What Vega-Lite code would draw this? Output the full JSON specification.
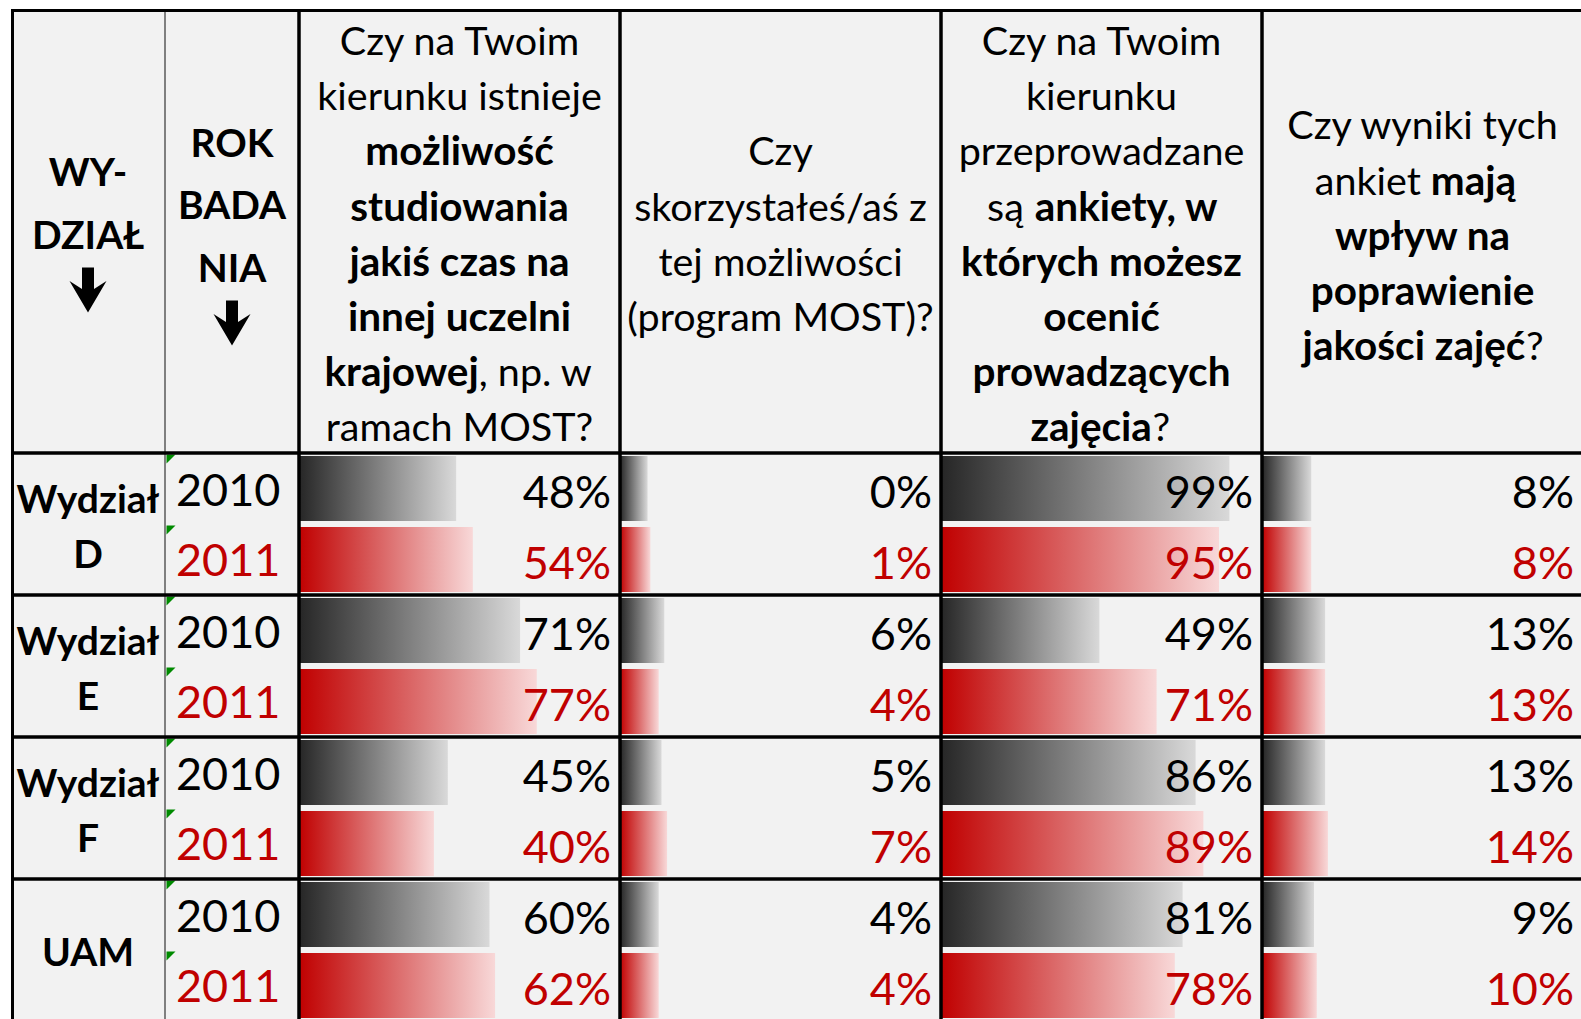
{
"$schema":"https://vega.github.io/schema/vega-lite/v6.json",
"background":"white",
"padding":{"left":11,"top":9,"right":0,"bottom":0},
"config":{"view":{"stroke":null,"fill":"#f2f2f2"},"concat":{"spacing":0}},
"datasets":{
"header":[
{"col":"c1","line":1,"text":"WY-","w":"b","part":"C"},
{"col":"c1","line":2,"text":"DZIAŁ","w":"b","part":"C"},
{"col":"c1","line":3,"text":"↓","w":"b","part":"A"},
{"col":"c2","line":1,"text":"ROK","w":"b","part":"C"},
{"col":"c2","line":2,"text":"BADA","w":"b","part":"C"},
{"col":"c2","line":3,"text":"NIA","w":"b","part":"C"},
{"col":"c2","line":4,"text":"↓","w":"b","part":"A"},
{"col":"q1","line":1,"text":"Czy na Twoim","w":"n","part":"C"},
{"col":"q1","line":2,"text":"kierunku istnieje","w":"n","part":"C"},
{"col":"q1","line":3,"text":"możliwość","w":"b","part":"C"},
{"col":"q1","line":4,"text":"studiowania","w":"b","part":"C"},
{"col":"q1","line":5,"text":"jakiś czas na","w":"b","part":"C"},
{"col":"q1","line":6,"text":"innej uczelni","w":"b","part":"C"},
{"col":"q1","line":7,"text":"krajowej","w":"b","part":"L"},
{"col":"q1","line":7,"text":", np. w","w":"n","part":"R"},
{"col":"q1","line":8,"text":"ramach MOST?","w":"n","part":"C"},
{"col":"q2","line":1,"text":"Czy","w":"n","part":"C"},
{"col":"q2","line":2,"text":"skorzystałeś/aś z","w":"n","part":"C"},
{"col":"q2","line":3,"text":"tej możliwości","w":"n","part":"C"},
{"col":"q2","line":4,"text":"(program MOST)?","w":"n","part":"C"},
{"col":"q3","line":1,"text":"Czy na Twoim","w":"n","part":"C"},
{"col":"q3","line":2,"text":"kierunku","w":"n","part":"C"},
{"col":"q3","line":3,"text":"przeprowadzane","w":"n","part":"C"},
{"col":"q3","line":4,"text":"są","w":"n","part":"L"},
{"col":"q3","line":4,"text":"ankiety, w","w":"b","part":"R"},
{"col":"q3","line":5,"text":"których możesz","w":"b","part":"C"},
{"col":"q3","line":6,"text":"ocenić","w":"b","part":"C"},
{"col":"q3","line":7,"text":"prowadzących","w":"b","part":"C"},
{"col":"q3","line":8,"text":"zajęcia","w":"b","part":"L"},
{"col":"q3","line":8,"text":"?","w":"n","part":"R"},
{"col":"q4","line":1,"text":"Czy wyniki tych","w":"n","part":"C"},
{"col":"q4","line":2,"text":"ankiet","w":"n","part":"L"},
{"col":"q4","line":2,"text":"mają","w":"b","part":"R"},
{"col":"q4","line":3,"text":"wpływ na","w":"b","part":"C"},
{"col":"q4","line":4,"text":"poprawienie","w":"b","part":"C"},
{"col":"q4","line":5,"text":"jakości zajęć","w":"b","part":"L"},
{"col":"q4","line":5,"text":"?","w":"n","part":"R"}
],
"body":[
{"wydzial":"D","rok":"2010","q1":0.48,"q2":0.00,"q3":0.99,"q4":0.08},
{"wydzial":"D","rok":"2011","q1":0.54,"q2":0.01,"q3":0.95,"q4":0.08},
{"wydzial":"E","rok":"2010","q1":0.71,"q2":0.06,"q3":0.49,"q4":0.13},
{"wydzial":"E","rok":"2011","q1":0.77,"q2":0.04,"q3":0.71,"q4":0.13},
{"wydzial":"F","rok":"2010","q1":0.45,"q2":0.05,"q3":0.86,"q4":0.13},
{"wydzial":"F","rok":"2011","q1":0.40,"q2":0.07,"q3":0.89,"q4":0.14},
{"wydzial":"UAM","rok":"2010","q1":0.60,"q2":0.04,"q3":0.81,"q4":0.09},
{"wydzial":"UAM","rok":"2011","q1":0.62,"q2":0.04,"q3":0.78,"q4":0.10}
],
"wydzialy":[
{"wydzial":"D","label":"Wydział\nD"},
{"wydzial":"E","label":"Wydział\nE"},
{"wydzial":"F","label":"Wydział\nF"},
{"wydzial":"UAM","label":"UAM"}
]
},
"spacing":0,
"vconcat":[
{"spacing":0,"bounds":"flush","hconcat":[
{"width":154,"height":444,"layer":[
 {"data":{"name":"header"},"transform":[{"filter":"datum.col == 'c1' && datum.part == 'C'"}],
  "mark":{"type":"text","font":"Lato","fontSize":39,"fontWeight":"bold","baseline":"middle","align":"center","color":"black"},
  "encoding":{"x":{"datum":0.5,"type":"quantitative","scale":{"domain":[0,1],"nice":false,"zero":false},"axis":null},
   "y":{"field":"line","type":"quantitative","scale":{"domain":[-1.64,5.464],"reverse":true,"nice":false,"zero":false},"axis":null},
   "text":{"field":"text"}}},
 {"data":{"name":"header"},"transform":[{"filter":"datum.col == 'c1' && datum.part == 'A'"}],
  "mark":{"type":"point","shape":"M -6 -31.5 L 6 -31.5 L 6 -10 L 18.5 -18 L 0 13.5 L -18.5 -18 L -6 -10 Z","size":4,"filled":true,"color":"black","opacity":1,"strokeWidth":0},
  "encoding":{"x":{"datum":0.5,"type":"quantitative","axis":null},"y":{"field":"line","type":"quantitative","axis":null}}},
 {"data":{"values":[{}]},"mark":{"type":"rule","stroke":"#808080","strokeWidth":2,"clip":true},"encoding":{"x":{"value":"width"},"y":{"value":0},"y2":{"value":"height"}}},
 {"data":{"values":[{}]},"mark":{"type":"rule","stroke":"black","strokeWidth":6,"clip":true},"encoding":{"x":{"value":0},"y":{"value":0},"y2":{"value":"height"}}},
 {"data":{"values":[{}]},"mark":{"type":"rule","stroke":"black","strokeWidth":6,"clip":true},"encoding":{"y":{"value":0},"x":{"value":0},"x2":{"value":"width"}}},
 {"data":{"values":[{}]},"mark":{"type":"rule","stroke":"black","strokeWidth":3.5,"clip":true},"encoding":{"y":{"value":"height"},"x":{"value":0},"x2":{"value":"width"}}}
]},
{"width":134,"height":444,"layer":[
 {"data":{"name":"header"},"transform":[{"filter":"datum.col == 'c2' && datum.part == 'C'"}],
  "mark":{"type":"text","font":"Lato","fontSize":39,"fontWeight":"bold","baseline":"middle","align":"center","color":"black"},
  "encoding":{"x":{"datum":0.5,"type":"quantitative","scale":{"domain":[0,1],"nice":false,"zero":false},"axis":null},
   "y":{"field":"line","type":"quantitative","scale":{"domain":[-1.168,5.936],"reverse":true,"nice":false,"zero":false},"axis":null},
   "text":{"field":"text"}}},
 {"data":{"name":"header"},"transform":[{"filter":"datum.col == 'c2' && datum.part == 'A'"}],
  "mark":{"type":"point","shape":"M -6 -31.5 L 6 -31.5 L 6 -10 L 18.5 -18 L 0 13.5 L -18.5 -18 L -6 -10 Z","size":4,"filled":true,"color":"black","opacity":1,"strokeWidth":0},
  "encoding":{"x":{"datum":0.5,"type":"quantitative","axis":null},"y":{"field":"line","type":"quantitative","axis":null}}},
 {"data":{"values":[{}]},"mark":{"type":"rule","stroke":"#808080","strokeWidth":2,"clip":true},"encoding":{"x":{"value":0},"y":{"value":0},"y2":{"value":"height"}}},
 {"data":{"values":[{}]},"mark":{"type":"rule","stroke":"black","strokeWidth":3.5,"clip":true},"encoding":{"x":{"value":"width"},"y":{"value":0},"y2":{"value":"height"}}},
 {"data":{"values":[{}]},"mark":{"type":"rule","stroke":"black","strokeWidth":6,"clip":true},"encoding":{"y":{"value":0},"x":{"value":0},"x2":{"value":"width"}}},
 {"data":{"values":[{}]},"mark":{"type":"rule","stroke":"black","strokeWidth":3.5,"clip":true},"encoding":{"y":{"value":"height"},"x":{"value":0},"x2":{"value":"width"}}}
]},
{"width":321,"height":444,"layer":[
 {"data":{"name":"header"},"transform":[{"filter":"datum.col == 'q1' && datum.part == 'C' && datum.w == 'n'"}],
  "mark":{"type":"text","font":"Lato","fontSize":39.5,"baseline":"middle","align":"center","color":"black"},
  "encoding":{"x":{"datum":0.5,"type":"quantitative","scale":{"domain":[0,1],"nice":false,"zero":false},"axis":null},
   "y":{"field":"line","type":"quantitative","scale":{"domain":[0.383,8.426],"reverse":true,"nice":false,"zero":false},"axis":null},
   "text":{"field":"text"}}},
 {"data":{"name":"header"},"transform":[{"filter":"datum.col == 'q1' && datum.part == 'C' && datum.w == 'b'"}],
  "mark":{"type":"text","font":"Lato","fontSize":40.5,"fontWeight":"bold","baseline":"middle","align":"center","color":"black"},
  "encoding":{"x":{"datum":0.5,"type":"quantitative","axis":null},"y":{"field":"line","type":"quantitative","axis":null},"text":{"field":"text"}}},
 {"data":{"name":"header"},"transform":[{"filter":"datum.col == 'q1' && datum.line == 7 && datum.part == 'L'"}],
  "mark":{"type":"text","font":"Lato","fontSize":40.5,"fontWeight":"bold","baseline":"middle","align":"right","color":"black"},
  "encoding":{"x":{"datum":0.56,"type":"quantitative","axis":null},"y":{"field":"line","type":"quantitative","axis":null},"text":{"field":"text"}}},
 {"data":{"name":"header"},"transform":[{"filter":"datum.col == 'q1' && datum.line == 7 && datum.part == 'R'"}],
  "mark":{"type":"text","font":"Lato","fontSize":39.5,"baseline":"middle","align":"left","color":"black"},
  "encoding":{"x":{"datum":0.56,"type":"quantitative","axis":null},"y":{"field":"line","type":"quantitative","axis":null},"text":{"field":"text"}}},
 {"data":{"values":[{}]},"mark":{"type":"rule","stroke":"black","strokeWidth":3.5,"clip":true},"encoding":{"x":{"value":0},"y":{"value":0},"y2":{"value":"height"}}},
 {"data":{"values":[{}]},"mark":{"type":"rule","stroke":"black","strokeWidth":3.5,"clip":true},"encoding":{"x":{"value":"width"},"y":{"value":0},"y2":{"value":"height"}}},
 {"data":{"values":[{}]},"mark":{"type":"rule","stroke":"black","strokeWidth":6,"clip":true},"encoding":{"y":{"value":0},"x":{"value":0},"x2":{"value":"width"}}},
 {"data":{"values":[{}]},"mark":{"type":"rule","stroke":"black","strokeWidth":3.5,"clip":true},"encoding":{"y":{"value":"height"},"x":{"value":0},"x2":{"value":"width"}}}
]},
{"width":321,"height":444,"layer":[
 {"data":{"name":"header"},"transform":[{"filter":"datum.col == 'q2' && datum.part == 'C' && datum.w == 'n'"}],
  "mark":{"type":"text","font":"Lato","fontSize":39.5,"baseline":"middle","align":"center","color":"black"},
  "encoding":{"x":{"datum":0.5,"type":"quantitative","scale":{"domain":[0,1],"nice":false,"zero":false},"axis":null},
   "y":{"field":"line","type":"quantitative","scale":{"domain":[-1.617,6.426],"reverse":true,"nice":false,"zero":false},"axis":null},
   "text":{"field":"text"}}},
 {"data":{"values":[{}]},"mark":{"type":"rule","stroke":"black","strokeWidth":3.5,"clip":true},"encoding":{"x":{"value":0},"y":{"value":0},"y2":{"value":"height"}}},
 {"data":{"values":[{}]},"mark":{"type":"rule","stroke":"black","strokeWidth":3.5,"clip":true},"encoding":{"x":{"value":"width"},"y":{"value":0},"y2":{"value":"height"}}},
 {"data":{"values":[{}]},"mark":{"type":"rule","stroke":"black","strokeWidth":6,"clip":true},"encoding":{"y":{"value":0},"x":{"value":0},"x2":{"value":"width"}}},
 {"data":{"values":[{}]},"mark":{"type":"rule","stroke":"black","strokeWidth":3.5,"clip":true},"encoding":{"y":{"value":"height"},"x":{"value":0},"x2":{"value":"width"}}}
]},
{"width":321,"height":444,"layer":[
 {"data":{"name":"header"},"transform":[{"filter":"datum.col == 'q3' && datum.part == 'C' && datum.w == 'n'"}],
  "mark":{"type":"text","font":"Lato","fontSize":39.5,"baseline":"middle","align":"center","color":"black"},
  "encoding":{"x":{"datum":0.5,"type":"quantitative","scale":{"domain":[0,1],"nice":false,"zero":false},"axis":null},
   "y":{"field":"line","type":"quantitative","scale":{"domain":[0.383,8.426],"reverse":true,"nice":false,"zero":false},"axis":null},
   "text":{"field":"text"}}},
 {"data":{"name":"header"},"transform":[{"filter":"datum.col == 'q3' && datum.part == 'C' && datum.w == 'b'"}],
  "mark":{"type":"text","font":"Lato","fontSize":40.5,"fontWeight":"bold","baseline":"middle","align":"center","color":"black"},
  "encoding":{"x":{"datum":0.5,"type":"quantitative","axis":null},"y":{"field":"line","type":"quantitative","axis":null},"text":{"field":"text"}}},
 {"data":{"name":"header"},"transform":[{"filter":"datum.col == 'q3' && datum.line == 4 && datum.part == 'L'"}],
  "mark":{"type":"text","font":"Lato","fontSize":39.5,"baseline":"middle","align":"right","color":"black"},
  "encoding":{"x":{"datum":0.258,"type":"quantitative","axis":null},"y":{"field":"line","type":"quantitative","axis":null},"text":{"field":"text"}}},
 {"data":{"name":"header"},"transform":[{"filter":"datum.col == 'q3' && datum.line == 4 && datum.part == 'R'"}],
  "mark":{"type":"text","font":"Lato","fontSize":40.5,"fontWeight":"bold","baseline":"middle","align":"left","color":"black"},
  "encoding":{"x":{"datum":0.292,"type":"quantitative","axis":null},"y":{"field":"line","type":"quantitative","axis":null},"text":{"field":"text"}}},
 {"data":{"name":"header"},"transform":[{"filter":"datum.col == 'q3' && datum.line == 8 && datum.part == 'L'"}],
  "mark":{"type":"text","font":"Lato","fontSize":40.5,"fontWeight":"bold","baseline":"middle","align":"right","color":"black"},
  "encoding":{"x":{"datum":0.657,"type":"quantitative","axis":null},"y":{"field":"line","type":"quantitative","axis":null},"text":{"field":"text"}}},
 {"data":{"name":"header"},"transform":[{"filter":"datum.col == 'q3' && datum.line == 8 && datum.part == 'R'"}],
  "mark":{"type":"text","font":"Lato","fontSize":39.5,"baseline":"middle","align":"left","color":"black"},
  "encoding":{"x":{"datum":0.659,"type":"quantitative","axis":null},"y":{"field":"line","type":"quantitative","axis":null},"text":{"field":"text"}}},
 {"data":{"values":[{}]},"mark":{"type":"rule","stroke":"black","strokeWidth":3.5,"clip":true},"encoding":{"x":{"value":0},"y":{"value":0},"y2":{"value":"height"}}},
 {"data":{"values":[{}]},"mark":{"type":"rule","stroke":"black","strokeWidth":3.5,"clip":true},"encoding":{"x":{"value":"width"},"y":{"value":0},"y2":{"value":"height"}}},
 {"data":{"values":[{}]},"mark":{"type":"rule","stroke":"black","strokeWidth":6,"clip":true},"encoding":{"y":{"value":0},"x":{"value":0},"x2":{"value":"width"}}},
 {"data":{"values":[{}]},"mark":{"type":"rule","stroke":"black","strokeWidth":3.5,"clip":true},"encoding":{"y":{"value":"height"},"x":{"value":0},"x2":{"value":"width"}}}
]},
{"width":319,"height":444,"layer":[
 {"data":{"name":"header"},"transform":[{"filter":"datum.col == 'q4' && datum.part == 'C' && datum.w == 'n'"}],
  "mark":{"type":"text","font":"Lato","fontSize":39.5,"baseline":"middle","align":"center","color":"black"},
  "encoding":{"x":{"datum":0.5,"type":"quantitative","scale":{"domain":[0,0.99377],"nice":false,"zero":false},"axis":null},
   "y":{"field":"line","type":"quantitative","scale":{"domain":[-1.144,6.899],"reverse":true,"nice":false,"zero":false},"axis":null},
   "text":{"field":"text"}}},
 {"data":{"name":"header"},"transform":[{"filter":"datum.col == 'q4' && datum.part == 'C' && datum.w == 'b'"}],
  "mark":{"type":"text","font":"Lato","fontSize":40.5,"fontWeight":"bold","baseline":"middle","align":"center","color":"black"},
  "encoding":{"x":{"datum":0.5,"type":"quantitative","axis":null},"y":{"field":"line","type":"quantitative","axis":null},"text":{"field":"text"}}},
 {"data":{"name":"header"},"transform":[{"filter":"datum.col == 'q4' && datum.line == 2 && datum.part == 'L'"}],
  "mark":{"type":"text","font":"Lato","fontSize":39.5,"baseline":"middle","align":"right","color":"black"},
  "encoding":{"x":{"datum":0.495,"type":"quantitative","axis":null},"y":{"field":"line","type":"quantitative","axis":null},"text":{"field":"text"}}},
 {"data":{"name":"header"},"transform":[{"filter":"datum.col == 'q4' && datum.line == 2 && datum.part == 'R'"}],
  "mark":{"type":"text","font":"Lato","fontSize":40.5,"fontWeight":"bold","baseline":"middle","align":"left","color":"black"},
  "encoding":{"x":{"datum":0.526,"type":"quantitative","axis":null},"y":{"field":"line","type":"quantitative","axis":null},"text":{"field":"text"}}},
 {"data":{"name":"header"},"transform":[{"filter":"datum.col == 'q4' && datum.line == 5 && datum.part == 'L'"}],
  "mark":{"type":"text","font":"Lato","fontSize":40.5,"fontWeight":"bold","baseline":"middle","align":"right","color":"black"},
  "encoding":{"x":{"datum":0.8205,"type":"quantitative","axis":null},"y":{"field":"line","type":"quantitative","axis":null},"text":{"field":"text"}}},
 {"data":{"name":"header"},"transform":[{"filter":"datum.col == 'q4' && datum.line == 5 && datum.part == 'R'"}],
  "mark":{"type":"text","font":"Lato","fontSize":39.5,"baseline":"middle","align":"left","color":"black"},
  "encoding":{"x":{"datum":0.8225,"type":"quantitative","axis":null},"y":{"field":"line","type":"quantitative","axis":null},"text":{"field":"text"}}},
 {"data":{"values":[{}]},"mark":{"type":"rule","stroke":"black","strokeWidth":3.5,"clip":true},"encoding":{"x":{"value":0},"y":{"value":0},"y2":{"value":"height"}}},
 {"data":{"values":[{}]},"mark":{"type":"rule","stroke":"black","strokeWidth":6,"clip":true},"encoding":{"y":{"value":0},"x":{"value":0},"x2":{"value":"width"}}},
 {"data":{"values":[{}]},"mark":{"type":"rule","stroke":"black","strokeWidth":3.5,"clip":true},"encoding":{"y":{"value":"height"},"x":{"value":0},"x2":{"value":"width"}}}
]}
]},
{"spacing":0,"bounds":"flush","hconcat":[
{"width":154,"height":566,"layer":[
 {"data":{"name":"wydzialy"},"transform":[{"filter":"datum.wydzial != 'UAM'"}],
  "mark":{"type":"text","font":"Lato","fontSize":39,"fontWeight":"bold","baseline":"middle","align":"center","lineBreak":"\n","lineHeight":55,"dy":-23.5,"color":"black"},
  "encoding":{"x":{"datum":0.5,"type":"quantitative","scale":{"domain":[0,1],"nice":false,"zero":false},"axis":null},
   "y":{"field":"wydzial","type":"nominal","scale":{"domain":["D","E","F","UAM"],"range":[0,568],"paddingInner":0,"paddingOuter":0},"axis":null},
   "text":{"field":"label"}}},
 {"data":{"name":"wydzialy"},"transform":[{"filter":"datum.wydzial == 'UAM'"}],
  "mark":{"type":"text","font":"Lato","fontSize":39,"fontWeight":"bold","baseline":"middle","align":"center","dy":4,"color":"black"},
  "encoding":{"x":{"datum":0.5,"type":"quantitative","axis":null},"y":{"field":"wydzial","type":"nominal","axis":null},"text":{"field":"label"}}},
 {"data":{"values":[{}]},"mark":{"type":"rule","stroke":"#808080","strokeWidth":2,"clip":true},"encoding":{"x":{"value":"width"},"y":{"value":0},"y2":{"value":"height"}}},
 {"data":{"values":[{}]},"mark":{"type":"rule","stroke":"black","strokeWidth":6,"clip":true},"encoding":{"x":{"value":0},"y":{"value":0},"y2":{"value":"height"}}},
 {"data":{"name":"wydzialy"},"mark":{"type":"rule","stroke":"black","strokeWidth":3.5,"clip":true},"encoding":{"y":{"field":"wydzial","type":"nominal","bandPosition":0,"axis":null},"x":{"value":0},"x2":{"value":"width"}}}
]},
{"width":134,"height":566,"layer":[
 {"data":{"name":"body"},
  "mark":{"type":"text","font":"Lato","fontSize":45,"baseline":"alphabetic","align":"left","dx":11,"dy":17},
  "encoding":{"x":{"value":0},
   "y":{"field":"wydzial","type":"nominal","scale":{"domain":["D","E","F","UAM"],"range":[0,568],"paddingInner":0,"paddingOuter":0},"axis":null},
   "yOffset":{"field":"rok","type":"nominal","scale":{"domain":["2010","2011"],"paddingInner":0.0845,"paddingOuter":0.0423}},
   "text":{"field":"rok"},
   "color":{"condition":{"test":"datum.rok == '2011'","value":"#c00000"},"value":"black"}}},
 {"data":{"name":"body"},
  "mark":{"type":"point","shape":"M 1.5 -34 L 10.5 -34 L 1.5 -25 Z","size":4,"filled":true,"color":"#008a00","opacity":1,"strokeWidth":0},
  "encoding":{"x":{"value":0},"y":{"field":"wydzial","type":"nominal","axis":null},"yOffset":{"field":"rok","type":"nominal"}}},
 {"data":{"values":[{}]},"mark":{"type":"rule","stroke":"#808080","strokeWidth":2,"clip":true},"encoding":{"x":{"value":0},"y":{"value":0},"y2":{"value":"height"}}},
 {"data":{"values":[{}]},"mark":{"type":"rule","stroke":"black","strokeWidth":3.5,"clip":true},"encoding":{"x":{"value":"width"},"y":{"value":0},"y2":{"value":"height"}}},
 {"data":{"name":"wydzialy"},"mark":{"type":"rule","stroke":"black","strokeWidth":3.5,"clip":true},"encoding":{"y":{"field":"wydzial","type":"nominal","bandPosition":0,"axis":null},"x":{"value":0},"x2":{"value":"width"}}}
]},
{"width":321,"height":566,"layer":[
 {"data":{"name":"body"},"transform":[{"filter":"datum.rok == '2010'"}],
  "mark":{"type":"bar","clip":true,"fill":{"gradient":"linear","x1":0,"y1":0,"x2":1,"y2":0,"stops":[{"offset":0,"color":"#262626"},{"offset":1,"color":"#d9d9d9"}]}},
  "encoding":{"x":{"field":"q1","type":"quantitative","scale":{"domain":[-0.0853,1.0694],"nice":false,"zero":false},"axis":null},"x2":{"datum":-0.0853},
   "y":{"field":"wydzial","type":"nominal","scale":{"domain":["D","E","F","UAM"],"range":[0,568],"paddingInner":0,"paddingOuter":0},"axis":null},
   "yOffset":{"field":"rok","type":"nominal","scale":{"domain":["2010","2011"],"paddingInner":0.0845,"paddingOuter":0.0423}}}},
 {"data":{"name":"body"},"transform":[{"filter":"datum.rok == '2011'"}],
  "mark":{"type":"bar","clip":true,"fill":{"gradient":"linear","x1":0,"y1":0,"x2":1,"y2":0,"stops":[{"offset":0,"color":"#c00000"},{"offset":1,"color":"#f8d8d8"}]}},
  "encoding":{"x":{"field":"q1","type":"quantitative","axis":null},"x2":{"datum":-0.0853},"y":{"field":"wydzial","type":"nominal","axis":null},"yOffset":{"field":"rok","type":"nominal"}}},
 {"data":{"name":"body"},
  "mark":{"type":"text","font":"Lato","fontSize":45,"baseline":"alphabetic","align":"right","dx":-9,"dy":19.5},
  "encoding":{"x":{"value":"width"},"y":{"field":"wydzial","type":"nominal","axis":null},"yOffset":{"field":"rok","type":"nominal"},
   "text":{"field":"q1","type":"quantitative","format":".0%"},
   "color":{"condition":{"test":"datum.rok == '2011'","value":"#c00000"},"value":"black"}}},
 {"data":{"values":[{}]},"mark":{"type":"rule","stroke":"black","strokeWidth":3.5,"clip":true},"encoding":{"x":{"value":0},"y":{"value":0},"y2":{"value":"height"}}},
 {"data":{"values":[{}]},"mark":{"type":"rule","stroke":"black","strokeWidth":3.5,"clip":true},"encoding":{"x":{"value":"width"},"y":{"value":0},"y2":{"value":"height"}}},
 {"data":{"name":"wydzialy"},"mark":{"type":"rule","stroke":"black","strokeWidth":3.5,"clip":true},"encoding":{"y":{"field":"wydzial","type":"nominal","bandPosition":0,"axis":null},"x":{"value":0},"x2":{"value":"width"}}}
]},
{"width":321,"height":566,"layer":[
 {"data":{"name":"body"},"transform":[{"filter":"datum.rok == '2010'"}],
  "mark":{"type":"bar","clip":true,"fill":{"gradient":"linear","x1":0,"y1":0,"x2":1,"y2":0,"stops":[{"offset":0,"color":"#262626"},{"offset":1,"color":"#d9d9d9"}]}},
  "encoding":{"x":{"field":"q2","type":"quantitative","scale":{"domain":[-0.0993,1.0554],"nice":false,"zero":false},"axis":null},"x2":{"datum":-0.0993},
   "y":{"field":"wydzial","type":"nominal","scale":{"domain":["D","E","F","UAM"],"range":[0,568],"paddingInner":0,"paddingOuter":0},"axis":null},
   "yOffset":{"field":"rok","type":"nominal","scale":{"domain":["2010","2011"],"paddingInner":0.0845,"paddingOuter":0.0423}}}},
 {"data":{"name":"body"},"transform":[{"filter":"datum.rok == '2011'"}],
  "mark":{"type":"bar","clip":true,"fill":{"gradient":"linear","x1":0,"y1":0,"x2":1,"y2":0,"stops":[{"offset":0,"color":"#c00000"},{"offset":1,"color":"#f8d8d8"}]}},
  "encoding":{"x":{"field":"q2","type":"quantitative","axis":null},"x2":{"datum":-0.0993},"y":{"field":"wydzial","type":"nominal","axis":null},"yOffset":{"field":"rok","type":"nominal"}}},
 {"data":{"name":"body"},
  "mark":{"type":"text","font":"Lato","fontSize":45,"baseline":"alphabetic","align":"right","dx":-9,"dy":19.5},
  "encoding":{"x":{"value":"width"},"y":{"field":"wydzial","type":"nominal","axis":null},"yOffset":{"field":"rok","type":"nominal"},
   "text":{"field":"q2","type":"quantitative","format":".0%"},
   "color":{"condition":{"test":"datum.rok == '2011'","value":"#c00000"},"value":"black"}}},
 {"data":{"values":[{}]},"mark":{"type":"rule","stroke":"black","strokeWidth":3.5,"clip":true},"encoding":{"x":{"value":0},"y":{"value":0},"y2":{"value":"height"}}},
 {"data":{"values":[{}]},"mark":{"type":"rule","stroke":"black","strokeWidth":3.5,"clip":true},"encoding":{"x":{"value":"width"},"y":{"value":0},"y2":{"value":"height"}}},
 {"data":{"name":"wydzialy"},"mark":{"type":"rule","stroke":"black","strokeWidth":3.5,"clip":true},"encoding":{"y":{"field":"wydzial","type":"nominal","bandPosition":0,"axis":null},"x":{"value":0},"x2":{"value":"width"}}}
]},
{"width":321,"height":566,"layer":[
 {"data":{"name":"body"},"transform":[{"filter":"datum.rok == '2010'"}],
  "mark":{"type":"bar","clip":true,"fill":{"gradient":"linear","x1":0,"y1":0,"x2":1,"y2":0,"stops":[{"offset":0,"color":"#262626"},{"offset":1,"color":"#d9d9d9"}]}},
  "encoding":{"x":{"field":"q3","type":"quantitative","scale":{"domain":[-0.1192,1.1154],"nice":false,"zero":false},"axis":null},"x2":{"datum":-0.1192},
   "y":{"field":"wydzial","type":"nominal","scale":{"domain":["D","E","F","UAM"],"range":[0,568],"paddingInner":0,"paddingOuter":0},"axis":null},
   "yOffset":{"field":"rok","type":"nominal","scale":{"domain":["2010","2011"],"paddingInner":0.0845,"paddingOuter":0.0423}}}},
 {"data":{"name":"body"},"transform":[{"filter":"datum.rok == '2011'"}],
  "mark":{"type":"bar","clip":true,"fill":{"gradient":"linear","x1":0,"y1":0,"x2":1,"y2":0,"stops":[{"offset":0,"color":"#c00000"},{"offset":1,"color":"#f8d8d8"}]}},
  "encoding":{"x":{"field":"q3","type":"quantitative","axis":null},"x2":{"datum":-0.1192},"y":{"field":"wydzial","type":"nominal","axis":null},"yOffset":{"field":"rok","type":"nominal"}}},
 {"data":{"name":"body"},
  "mark":{"type":"text","font":"Lato","fontSize":45,"baseline":"alphabetic","align":"right","dx":-9,"dy":19.5},
  "encoding":{"x":{"value":"width"},"y":{"field":"wydzial","type":"nominal","axis":null},"yOffset":{"field":"rok","type":"nominal"},
   "text":{"field":"q3","type":"quantitative","format":".0%"},
   "color":{"condition":{"test":"datum.rok == '2011'","value":"#c00000"},"value":"black"}}},
 {"data":{"values":[{}]},"mark":{"type":"rule","stroke":"black","strokeWidth":3.5,"clip":true},"encoding":{"x":{"value":0},"y":{"value":0},"y2":{"value":"height"}}},
 {"data":{"values":[{}]},"mark":{"type":"rule","stroke":"black","strokeWidth":3.5,"clip":true},"encoding":{"x":{"value":"width"},"y":{"value":0},"y2":{"value":"height"}}},
 {"data":{"name":"wydzialy"},"mark":{"type":"rule","stroke":"black","strokeWidth":3.5,"clip":true},"encoding":{"y":{"field":"wydzial","type":"nominal","bandPosition":0,"axis":null},"x":{"value":0},"x2":{"value":"width"}}}
]},
{"width":319,"height":566,"layer":[
 {"data":{"name":"body"},"transform":[{"filter":"datum.rok == '2010'"}],
  "mark":{"type":"bar","clip":true,"fill":{"gradient":"linear","x1":0,"y1":0,"x2":1,"y2":0,"stops":[{"offset":0,"color":"#262626"},{"offset":1,"color":"#d9d9d9"}]}},
  "encoding":{"x":{"field":"q4","type":"quantitative","scale":{"domain":[-0.0971,1.0504],"nice":false,"zero":false},"axis":null},"x2":{"datum":-0.0971},
   "y":{"field":"wydzial","type":"nominal","scale":{"domain":["D","E","F","UAM"],"range":[0,568],"paddingInner":0,"paddingOuter":0},"axis":null},
   "yOffset":{"field":"rok","type":"nominal","scale":{"domain":["2010","2011"],"paddingInner":0.0845,"paddingOuter":0.0423}}}},
 {"data":{"name":"body"},"transform":[{"filter":"datum.rok == '2011'"}],
  "mark":{"type":"bar","clip":true,"fill":{"gradient":"linear","x1":0,"y1":0,"x2":1,"y2":0,"stops":[{"offset":0,"color":"#c00000"},{"offset":1,"color":"#f8d8d8"}]}},
  "encoding":{"x":{"field":"q4","type":"quantitative","axis":null},"x2":{"datum":-0.0971},"y":{"field":"wydzial","type":"nominal","axis":null},"yOffset":{"field":"rok","type":"nominal"}}},
 {"data":{"name":"body"},
  "mark":{"type":"text","font":"Lato","fontSize":45,"baseline":"alphabetic","align":"right","dx":-7,"dy":19.5},
  "encoding":{"x":{"value":"width"},"y":{"field":"wydzial","type":"nominal","axis":null},"yOffset":{"field":"rok","type":"nominal"},
   "text":{"field":"q4","type":"quantitative","format":".0%"},
   "color":{"condition":{"test":"datum.rok == '2011'","value":"#c00000"},"value":"black"}}},
 {"data":{"values":[{}]},"mark":{"type":"rule","stroke":"black","strokeWidth":3.5,"clip":true},"encoding":{"x":{"value":0},"y":{"value":0},"y2":{"value":"height"}}},
 {"data":{"name":"wydzialy"},"mark":{"type":"rule","stroke":"black","strokeWidth":3.5,"clip":true},"encoding":{"y":{"field":"wydzial","type":"nominal","bandPosition":0,"axis":null},"x":{"value":0},"x2":{"value":"width"}}}
]}
]}
]
}
